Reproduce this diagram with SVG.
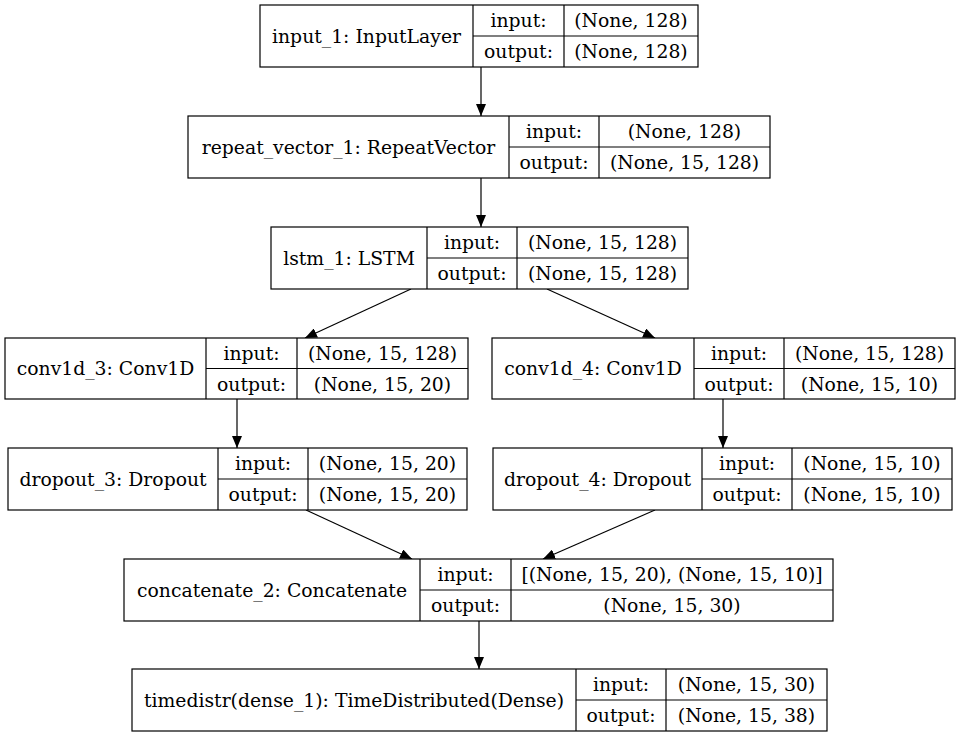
<svg xmlns="http://www.w3.org/2000/svg" width="960" height="737" viewBox="0 0 960 737">
<style>
rect { fill: #fff; stroke: #000; stroke-width: 1.2; }
line.d { fill: none; stroke: #000; stroke-width: 1.2; }
text { text-anchor: middle; dominant-baseline: central; fill: #000; }
.e line { stroke: #000; stroke-width: 1.2; marker-end: url(#ah); }
</style>
<defs>
<marker id="ah" viewBox="0 0 12 10" refX="12" refY="5" markerWidth="12" markerHeight="10" markerUnits="userSpaceOnUse" orient="auto">
<path d="M0,0 L12,5 L0,10 Z" fill="#000"/>
</marker>
</defs>
<g class="e">
<line x1="481" y1="67" x2="481" y2="116"/>
<line x1="481" y1="178" x2="481" y2="227"/>
<line x1="411" y1="289" x2="305" y2="338"/>
<line x1="547" y1="289" x2="655" y2="338"/>
<line x1="237" y1="399" x2="237" y2="448"/>
<line x1="723" y1="399" x2="723" y2="448"/>
<line x1="306" y1="510" x2="412" y2="559"/>
<line x1="655" y1="510" x2="543" y2="559"/>
<line x1="479" y1="621" x2="479" y2="669"/>
</g>
<g font-family="DejaVu Serif, serif" font-size="18.8">
<g id="input_1">
<rect x="260" y="5" width="438" height="62"/>
<line class="d" x1="473" y1="5" x2="473" y2="67"/><line class="d" x1="564" y1="5" x2="564" y2="67"/><line class="d" x1="473" y1="36" x2="698" y2="36"/>
<text x="366.5" y="36">input_1: InputLayer</text>
<text x="518.5" y="20.5">input:</text><text x="518.5" y="51.5">output:</text>
<text x="631" y="20.5">(None, 128)</text><text x="631" y="51.5">(None, 128)</text>
</g>
<g id="repeat_vector_1">
<rect x="188" y="116" width="582" height="62"/>
<line class="d" x1="509" y1="116" x2="509" y2="178"/><line class="d" x1="599" y1="116" x2="599" y2="178"/><line class="d" x1="509" y1="147" x2="770" y2="147"/>
<text x="348.5" y="147">repeat_vector_1: RepeatVector</text>
<text x="554" y="131.5">input:</text><text x="554" y="162.5">output:</text>
<text x="684.5" y="131.5">(None, 128)</text><text x="684.5" y="162.5">(None, 15, 128)</text>
</g>
<g id="lstm_1">
<rect x="271" y="227" width="417" height="62"/>
<line class="d" x1="427" y1="227" x2="427" y2="289"/><line class="d" x1="517" y1="227" x2="517" y2="289"/><line class="d" x1="427" y1="258" x2="688" y2="258"/>
<text x="349" y="258">lstm_1: LSTM</text>
<text x="472" y="242.5">input:</text><text x="472" y="273.5">output:</text>
<text x="602.5" y="242.5">(None, 15, 128)</text><text x="602.5" y="273.5">(None, 15, 128)</text>
</g>
<g id="conv1d_3">
<rect x="5" y="338" width="463" height="61"/>
<line class="d" x1="206" y1="338" x2="206" y2="399"/><line class="d" x1="297" y1="338" x2="297" y2="399"/><line class="d" x1="206" y1="368.5" x2="468" y2="368.5"/>
<text x="105.5" y="368.5">conv1d_3: Conv1D</text>
<text x="251.5" y="353">input:</text><text x="251.5" y="384">output:</text>
<text x="382.5" y="353">(None, 15, 128)</text><text x="382.5" y="384">(None, 15, 20)</text>
</g>
<g id="conv1d_4">
<rect x="492" y="338" width="463" height="61"/>
<line class="d" x1="694" y1="338" x2="694" y2="399"/><line class="d" x1="784" y1="338" x2="784" y2="399"/><line class="d" x1="694" y1="368.5" x2="955" y2="368.5"/>
<text x="593" y="368.5">conv1d_4: Conv1D</text>
<text x="739" y="353">input:</text><text x="739" y="384">output:</text>
<text x="869.5" y="353">(None, 15, 128)</text><text x="869.5" y="384">(None, 15, 10)</text>
</g>
<g id="dropout_3">
<rect x="8" y="448" width="459" height="62"/>
<line class="d" x1="218" y1="448" x2="218" y2="510"/><line class="d" x1="308" y1="448" x2="308" y2="510"/><line class="d" x1="218" y1="479" x2="467" y2="479"/>
<text x="113" y="479">dropout_3: Dropout</text>
<text x="263" y="463.5">input:</text><text x="263" y="494.5">output:</text>
<text x="387.5" y="463.5">(None, 15, 20)</text><text x="387.5" y="494.5">(None, 15, 20)</text>
</g>
<g id="dropout_4">
<rect x="493" y="448" width="459" height="62"/>
<line class="d" x1="702" y1="448" x2="702" y2="510"/><line class="d" x1="792" y1="448" x2="792" y2="510"/><line class="d" x1="702" y1="479" x2="952" y2="479"/>
<text x="597.5" y="479">dropout_4: Dropout</text>
<text x="747" y="463.5">input:</text><text x="747" y="494.5">output:</text>
<text x="872" y="463.5">(None, 15, 10)</text><text x="872" y="494.5">(None, 15, 10)</text>
</g>
<g id="concatenate_2">
<rect x="124" y="559" width="709" height="62"/>
<line class="d" x1="420" y1="559" x2="420" y2="621"/><line class="d" x1="511" y1="559" x2="511" y2="621"/><line class="d" x1="420" y1="590" x2="833" y2="590"/>
<text x="272" y="590">concatenate_2: Concatenate</text>
<text x="465.5" y="574.5">input:</text><text x="465.5" y="605.5">output:</text>
<text x="672" y="574.5">[(None, 15, 20), (None, 15, 10)]</text><text x="672" y="605.5">(None, 15, 30)</text>
</g>
<g id="timedistr_dense_1">
<rect x="132" y="669" width="695" height="62"/>
<line class="d" x1="576" y1="669" x2="576" y2="731"/><line class="d" x1="666" y1="669" x2="666" y2="731"/><line class="d" x1="576" y1="700" x2="827" y2="700"/>
<text x="354" y="700">timedistr(dense_1): TimeDistributed(Dense)</text>
<text x="621" y="684.5">input:</text><text x="621" y="715.5">output:</text>
<text x="746.5" y="684.5">(None, 15, 30)</text><text x="746.5" y="715.5">(None, 15, 38)</text>
</g>
</g>
</svg>
